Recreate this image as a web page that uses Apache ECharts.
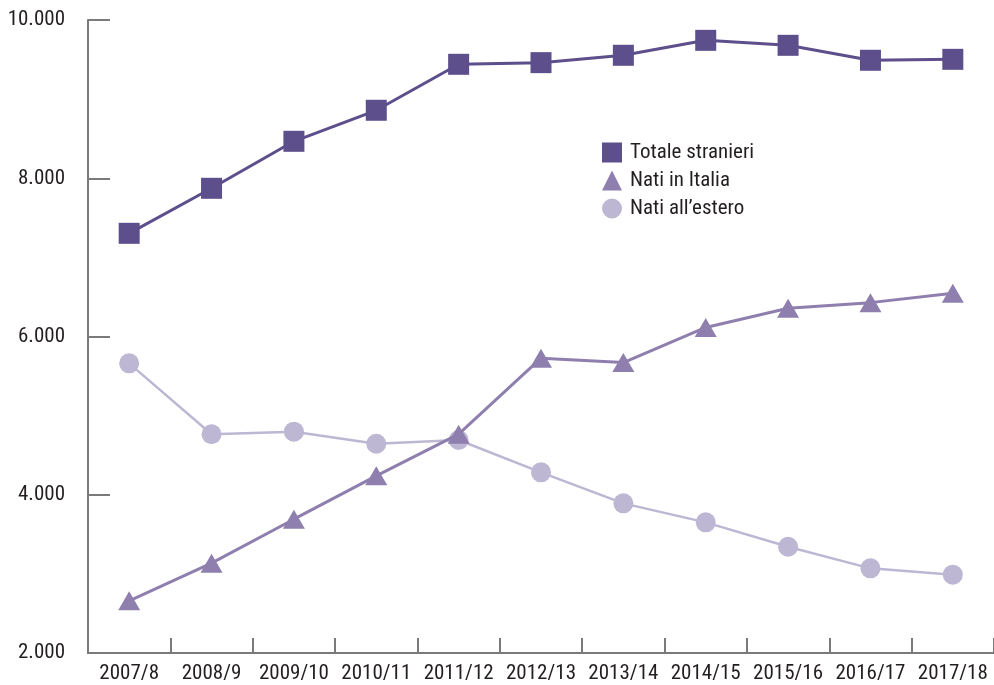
<!DOCTYPE html>
<html>
<head>
<meta charset="utf-8">
<script src="https://cdn.jsdelivr.net/npm/echarts@6/dist/echarts.min.js"></script>
<style>
  html, body { margin: 0; padding: 0; background: #ffffff; }
  #chart { width: 994px; height: 685px; }
</style>
</head>
<body>
<div id="chart"></div>
<script>
const categories = ['2007/8', '2008/9', '2009/10', '2010/11', '2011/12', '2012/13', '2013/14', '2014/15', '2015/16', '2016/17', '2017/18'];
const totaleStranieri = [7304, 7873, 8467, 8859, 9440, 9461, 9554, 9743, 9680, 9491, 9503];
const natiInItalia = [2660, 3135, 3691, 4239, 4766, 5726, 5671, 6114, 6358, 6428, 6548];
const natiAllEstero = [5661, 4764, 4797, 4645, 4692, 4283, 3891, 3651, 3343, 3070, 2990];
const seriesNames = ['Totale stranieri', 'Nati in Italia', 'Nati all\u2019estero'];

const FONT = '"Roboto Condensed", "Liberation Sans Narrow", "DejaVu Sans Condensed", sans-serif';
const C_TOT = '#5d4e8c';
const C_ITA = '#8e7fae';
const C_EST = '#bdb7d3';
const AXIS = '#7a7a7a';
const TXT = '#231f20';

function fmt(v) {
  return String(v).replace(/\B(?=(\d{3})+(?!\d))/g, '.');
}

const chart = echarts.init(document.getElementById('chart'), null, { renderer: 'canvas' });
chart.setOption({
  animation: false,
  backgroundColor: '#ffffff',
  textStyle: { fontFamily: FONT },
  grid: { left: 88, right: -4.5, top: 20, bottom: 32, containLabel: false },
  legend: {
    orient: 'vertical',
    left: 602,
    top: 142,
    padding: 0,
    itemWidth: 20,
    itemHeight: 20,
    itemGap: 7,
    textStyle: { fontFamily: FONT, fontSize: 21, color: TXT, lineHeight: 21, padding: [0, 0, 0, 3] },
    data: [
      { name: seriesNames[0], icon: 'rect', itemStyle: { color: C_TOT } },
      { name: seriesNames[1], icon: 'triangle', itemStyle: { color: C_ITA } },
      { name: seriesNames[2], icon: 'circle', itemStyle: { color: C_EST } }
    ]
  },
  xAxis: {
    type: 'category',
    data: categories,
    boundaryGap: true,
    axisLine: { show: true, lineStyle: { color: AXIS, width: 2 } },
    axisTick: { show: true, inside: true, length: 15, interval: 0, lineStyle: { color: AXIS, width: 2 } },
    axisLabel: { interval: 0, margin: 10, fontSize: 21, color: TXT, fontFamily: FONT },
    splitLine: { show: false }
  },
  yAxis: {
    type: 'value',
    min: 2000,
    max: 10000,
    interval: 2000,
    axisLine: { show: true, lineStyle: { color: AXIS, width: 2 } },
    axisTick: { show: true, inside: true, length: 22, lineStyle: { color: AXIS, width: 2 } },
    axisLabel: { margin: 23, fontSize: 21, color: TXT, fontFamily: FONT, formatter: fmt, padding: [7, 0, 0, 0] },
    splitLine: { show: false }
  },
  series: [
    {
      name: seriesNames[2],
      type: 'line',
      data: natiAllEstero,
      symbol: 'circle',
      symbolSize: 20,
      lineStyle: { color: C_EST, width: 2.5 },
      itemStyle: { color: C_EST },
      z: 2
    },
    {
      name: seriesNames[1],
      type: 'line',
      data: natiInItalia,
      symbol: 'triangle',
      symbolSize: [22, 19],
      lineStyle: { color: C_ITA, width: 3 },
      itemStyle: { color: C_ITA },
      z: 3
    },
    {
      name: seriesNames[0],
      type: 'line',
      data: totaleStranieri,
      symbol: 'rect',
      symbolSize: 21,
      lineStyle: { color: C_TOT, width: 3 },
      itemStyle: { color: C_TOT },
      z: 4
    }
  ]
});
</script>
</body>
</html>
